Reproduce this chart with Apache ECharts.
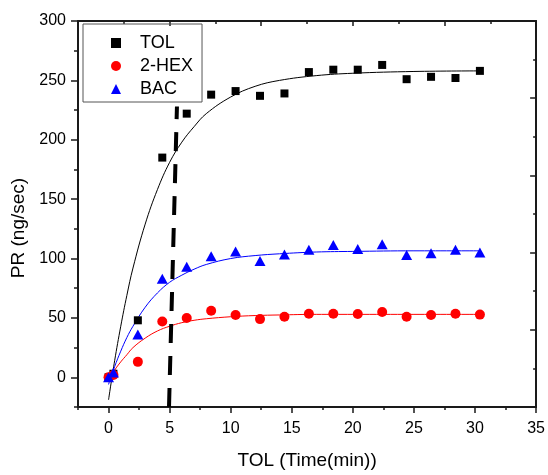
<!DOCTYPE html>
<html>
<head>
<meta charset="utf-8">
<script src="https://cdn.jsdelivr.net/npm/echarts@6/dist/echarts.min.js"></script>
<style>html,body{margin:0;padding:0;background:#fff}#c{width:548px;height:475px}</style>
</head>
<body>
<div id="c"></div>
<script>
// ---- data ----
const seriesNames = ['TOL', '2-HEX', 'BAC'];
const timeMeasured = [0, 0.4, 2.4, 4.4, 6.4, 8.4, 10.4, 12.4, 14.4, 16.4, 18.4, 20.4, 22.4, 24.4, 26.4, 28.4, 30.4];
const tolValues = [0, 3, 48, 185, 222, 238, 241, 237, 239, 257, 259, 259, 263, 251, 253, 252, 258];
const hexValues = [0, 2, 13, 47, 50, 56, 52.5, 49, 51, 53.5, 53.5, 53.3, 55, 51, 52.5, 53.5, 52.8];
const bacValues = [0, 4, 36, 83, 93, 102, 106, 98, 103.5, 107.5, 111.5, 108, 112, 103, 104.5, 107.5, 105];

const timeFit = [0, 0.5, 1, 1.5, 2, 3, 4, 5, 6, 7, 8, 10, 12, 14, 17, 20, 25, 30.4];
const tolFit = [-19, 14, 43, 69, 92, 129, 158, 181, 198, 211, 222, 236, 245, 250, 254, 256, 257.5, 258];
const hexFit = [-3, 6, 13, 19, 25, 33, 39, 43, 46, 48, 49.3, 51, 52, 52.5, 53, 53, 53, 53];
const bacFit = [-6, 9, 22, 33.5, 43, 59, 71, 80, 86, 91, 95, 100, 102.5, 104, 105.5, 106, 106.5, 106.5];

const dashX = [4.95, 5.6];
const dashY = [-25, 228];

const xMajorTicks = [0, 5, 10, 15, 20, 25, 30, 35];
const yMajorTicks = [0, 50, 100, 150, 200, 250, 300];

const FONT = 'Arial, "Liberation Sans", sans-serif';
const AXC = '#1a1a1a';

function pairs(xs, ys) { return xs.map((x, i) => [x, ys[i]]); }
function isMult(v, m) { return Math.abs(v / m - Math.round(v / m)) < 1e-6; }

const chart = echarts.init(document.getElementById('c'), null, { renderer: 'canvas' });
chart.setOption({
  animation: false,
  backgroundColor: '#fff',
  grid: { left: 78, right: 10, top: 21, bottom: 63, containLabel: false },
  legend: {
    data: seriesNames,
    orient: 'vertical',
    left: 83, top: 24,
    padding: [10, 9, 4, 28],
    itemWidth: 10, itemHeight: 10,
    itemGap: 5,
    borderColor: '#555', borderWidth: 1,
    textStyle: { fontFamily: FONT, fontSize: 18, color: '#000', padding: [0, 0, 0, 14] }
  },
  xAxis: [
    {
      type: 'value', position: 'bottom', min: -2.5, max: 35, interval: 2.5,
      name: 'TOL (Time(min))', nameLocation: 'middle', nameGap: 44,
      nameTextStyle: { fontFamily: FONT, fontSize: 19, color: '#000' },
      axisLine: { show: true, onZero: false, lineStyle: { color: AXC, width: 2 } },
      axisTick: { show: true, inside: false, length: 3, lineStyle: { color: AXC, width: 1.5 } },
      axisLabel: { fontFamily: FONT, fontSize: 16, color: '#000', margin: 14,
        formatter: v => isMult(v, 5) ? String(Math.round(v)) : '' },
      splitLine: { show: false }
    },
    {
      type: 'value', position: 'bottom', min: -2.5, max: 35,
      axisLine: { show: false, onZero: false },
      axisTick: { show: true, inside: false, length: 6, customValues: xMajorTicks, lineStyle: { color: AXC, width: 1.5 } },
      axisLabel: { show: false },
      splitLine: { show: false }
    },
    {
      type: 'value', position: 'top', min: 0, max: 10, interval: 2,
      axisLine: { show: true, onZero: false, lineStyle: { color: AXC, width: 2 } },
      axisTick: { show: true, inside: true, length: 5, lineStyle: { color: AXC, width: 1.5 } },
      minorTick: { show: true, splitNumber: 2, length: 3, lineStyle: { color: AXC, width: 1.5 } },
      axisLabel: { show: false },
      splitLine: { show: false }
    }
  ],
  yAxis: [
    {
      type: 'value', position: 'left', min: -25, max: 300, interval: 25,
      name: 'PR (ng/sec)', nameLocation: 'middle', nameGap: 50,
      nameTextStyle: { fontFamily: FONT, fontSize: 19, color: '#000', padding: [0, 28, 0, 0] },
      axisLine: { show: true, onZero: false, lineStyle: { color: AXC, width: 2 } },
      axisTick: { show: true, inside: false, length: 4, lineStyle: { color: AXC, width: 1.5 } },
      axisLabel: { fontFamily: FONT, fontSize: 16, color: '#000', margin: 12,
        formatter: v => isMult(v, 50) ? String(Math.round(v)) : '' },
      splitLine: { show: false }
    },
    {
      type: 'value', position: 'left', min: -25, max: 300,
      axisLine: { show: false, onZero: false },
      axisTick: { show: true, inside: false, length: 7, customValues: yMajorTicks, lineStyle: { color: AXC, width: 1.5 } },
      axisLabel: { show: false },
      splitLine: { show: false }
    },
    {
      type: 'value', position: 'right', min: 0, max: 10, interval: 2,
      axisLine: { show: true, onZero: false, lineStyle: { color: AXC, width: 2 } },
      axisTick: { show: true, inside: true, length: 6, lineStyle: { color: AXC, width: 1.5 } },
      minorTick: { show: true, splitNumber: 2, length: 3, lineStyle: { color: AXC, width: 1.5 } },
      axisLabel: { show: false },
      splitLine: { show: false }
    }
  ],
  series: [
    { name: 'TOL fit', type: 'line', xAxisIndex: 0, yAxisIndex: 0, data: pairs(timeFit, tolFit),
      smooth: 0.4, showSymbol: false, lineStyle: { color: '#000', width: 1 }, z: 2 },
    { name: '2-HEX fit', type: 'line', xAxisIndex: 0, yAxisIndex: 0, data: pairs(timeFit, hexFit),
      smooth: 0.4, showSymbol: false, lineStyle: { color: '#ff0000', width: 1 }, z: 2 },
    { name: 'BAC fit', type: 'line', xAxisIndex: 0, yAxisIndex: 0, data: pairs(timeFit, bacFit),
      smooth: 0.4, showSymbol: false, lineStyle: { color: '#0000ff', width: 1 }, z: 2 },
    { name: 'TOL', type: 'scatter', xAxisIndex: 0, yAxisIndex: 0, data: pairs(timeMeasured, tolValues),
      symbol: 'rect', symbolSize: 8, itemStyle: { color: '#000', opacity: 1 }, z: 3 },
    { name: '2-HEX', type: 'scatter', xAxisIndex: 0, yAxisIndex: 0, data: pairs(timeMeasured, hexValues),
      symbol: 'circle', symbolSize: 10, itemStyle: { color: '#ff0000', opacity: 1 }, z: 3 },
    { name: 'BAC', type: 'scatter', xAxisIndex: 0, yAxisIndex: 0, data: pairs(timeMeasured, bacValues),
      symbol: 'triangle', symbolSize: [11, 10], itemStyle: { color: '#0000ff', opacity: 1 }, z: 3 },
    { name: 'divider', type: 'line', xAxisIndex: 0, yAxisIndex: 0, data: pairs(dashX, dashY),
      showSymbol: false, lineStyle: { color: '#000', width: 4, type: [19, 13], cap: 'butt' }, z: 4 }
  ]
});
</script>
</body>
</html>
